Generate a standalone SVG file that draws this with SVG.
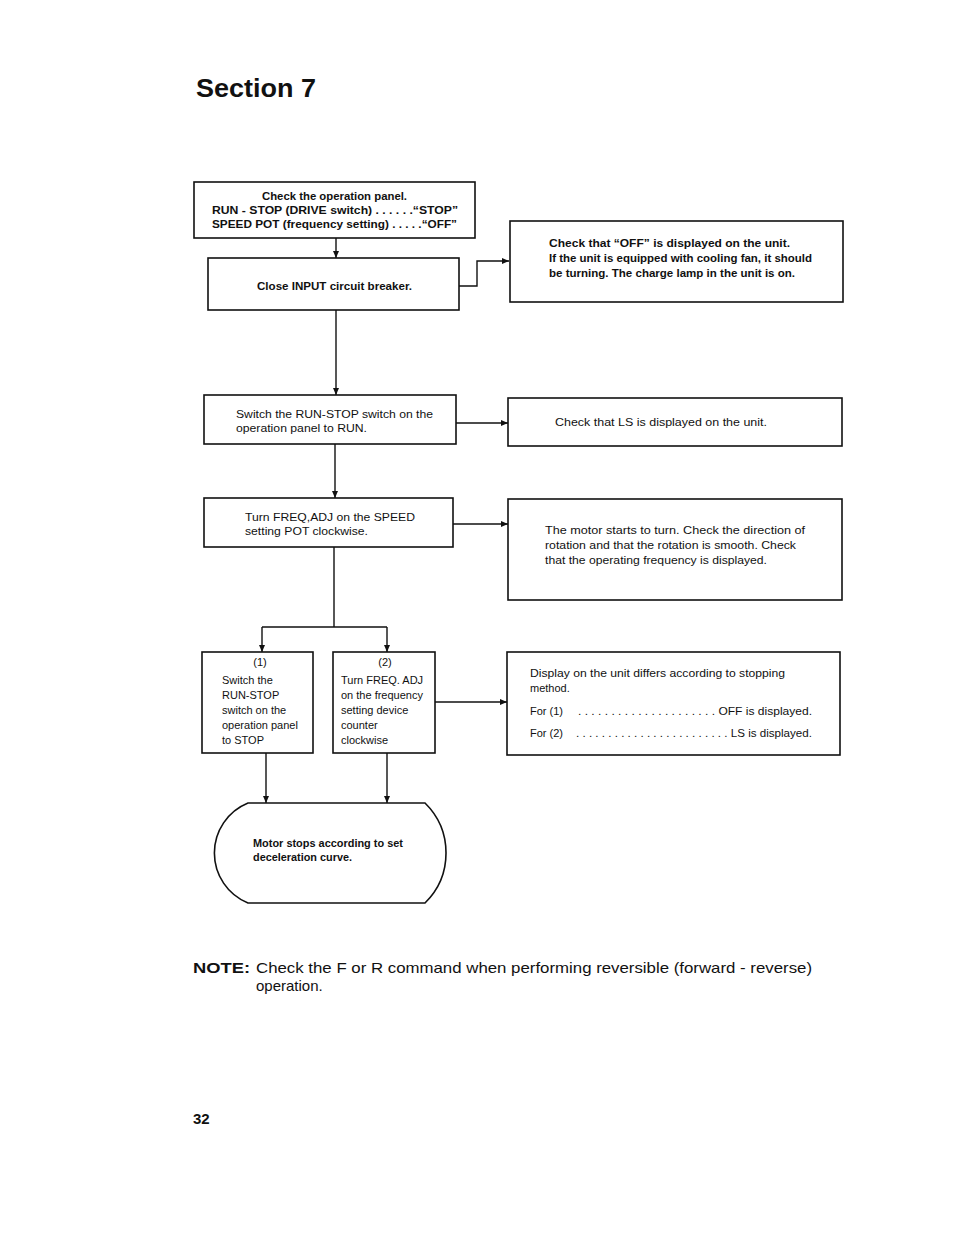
<svg xmlns="http://www.w3.org/2000/svg" width="954" height="1235" viewBox="0 0 954 1235">
<defs>
<marker id="ah" markerWidth="7" markerHeight="6" refX="7" refY="3" orient="auto" markerUnits="userSpaceOnUse">
<path d="M0,0 L7,3 L0,6 z" fill="#111"/>
</marker>
<style>
.box{fill:#fff;stroke:#111;stroke-width:1.6}
.t{font-family:"Liberation Sans",Arial,sans-serif;font-size:11px;fill:#111}
.b{font-weight:bold}
.c{fill:none;stroke:#111;stroke-width:1.4}
.a{marker-end:url(#ah)}
</style>
</defs>
<rect width="954" height="1235" fill="#fff"/>
<text x="196" y="97" font-family="Liberation Sans,Arial,sans-serif" font-size="26" font-weight="bold" fill="#111" textLength="120" lengthAdjust="spacingAndGlyphs">Section 7</text>

<g id="connectors">
<path class="c a" d="M336,238 V258"/>
<path class="c a" d="M459,286 H477 V261 H509"/>
<path class="c a" d="M336,310 V395"/>
<path class="c a" d="M456,423 H508"/>
<path class="c a" d="M335,444 V498"/>
<path class="c a" d="M453,524 H508"/>
<path class="c" d="M334,547 V627 M262,627 H387"/>
<path class="c a" d="M262,627 V652"/>
<path class="c a" d="M387,627 V652"/>
<path class="c a" d="M435,702 H507"/>
<path class="c a" d="M266,753 V803"/>
<path class="c a" d="M387,753 V803"/>
</g>

<g id="n1">
<rect class="box" x="194" y="182" width="281" height="56"/>
<text class="t b" x="262" y="200" textLength="145" lengthAdjust="spacingAndGlyphs">Check the operation panel.</text>
<text class="t b" x="212" y="214" textLength="246" lengthAdjust="spacingAndGlyphs">RUN - STOP (DRIVE switch) . . . . . .“STOP”</text>
<text class="t b" x="212" y="228" textLength="245" lengthAdjust="spacingAndGlyphs">SPEED POT (frequency setting) . . . . .“OFF”</text>
</g>

<g id="n2">
<rect class="box" x="208" y="258" width="251" height="52"/>
<text class="t b" x="257" y="290" textLength="155" lengthAdjust="spacingAndGlyphs">Close INPUT circuit breaker.</text>
</g>

<g id="n3">
<rect class="box" x="510" y="221" width="333" height="81"/>
<text class="t b" x="549" y="247" textLength="241" lengthAdjust="spacingAndGlyphs">Check that “OFF” is displayed on the unit.</text>
<text class="t b" x="549" y="262" textLength="263" lengthAdjust="spacingAndGlyphs">If the unit is equipped with cooling fan, it should</text>
<text class="t b" x="549" y="277" textLength="246" lengthAdjust="spacingAndGlyphs">be turning. The charge lamp in the unit is on.</text>
</g>

<g id="n4">
<rect class="box" x="204" y="395" width="252" height="49"/>
<text class="t" x="236" y="418" textLength="197" lengthAdjust="spacingAndGlyphs">Switch the RUN-STOP switch on the</text>
<text class="t" x="236" y="432" textLength="131" lengthAdjust="spacingAndGlyphs">operation panel to RUN.</text>
</g>

<g id="n5">
<rect class="box" x="508" y="398" width="334" height="48"/>
<text class="t" x="555" y="426" textLength="212" lengthAdjust="spacingAndGlyphs">Check that LS is displayed on the unit.</text>
</g>

<g id="n6">
<rect class="box" x="204" y="498" width="249" height="49"/>
<text class="t" x="245" y="521" textLength="170" lengthAdjust="spacingAndGlyphs">Turn FREQ,ADJ on the SPEED</text>
<text class="t" x="245" y="535" textLength="123" lengthAdjust="spacingAndGlyphs">setting POT clockwise.</text>
</g>

<g id="n7">
<rect class="box" x="508" y="499" width="334" height="101"/>
<text class="t" x="545" y="534" textLength="260" lengthAdjust="spacingAndGlyphs">The motor starts to turn. Check the direction of</text>
<text class="t" x="545" y="549" textLength="251" lengthAdjust="spacingAndGlyphs">rotation and that the rotation is smooth. Check</text>
<text class="t" x="545" y="564" textLength="222" lengthAdjust="spacingAndGlyphs">that the operating frequency is displayed.</text>
</g>

<g id="n8">
<rect class="box" x="202" y="652" width="111" height="101"/>
<text class="t" x="260" y="666" text-anchor="middle">(1)</text>
<text class="t" x="222" y="684">Switch the</text>
<text class="t" x="222" y="699">RUN-STOP</text>
<text class="t" x="222" y="714">switch on the</text>
<text class="t" x="222" y="729">operation panel</text>
<text class="t" x="222" y="744">to STOP</text>
</g>

<g id="n9">
<rect class="box" x="333" y="652" width="102" height="101"/>
<text class="t" x="385" y="666" text-anchor="middle">(2)</text>
<text class="t" x="341" y="684">Turn FREQ. ADJ</text>
<text class="t" x="341" y="699">on the frequency</text>
<text class="t" x="341" y="714">setting device</text>
<text class="t" x="341" y="729">counter</text>
<text class="t" x="341" y="744">clockwise</text>
</g>

<g id="n10">
<rect class="box" x="507" y="652" width="333" height="103"/>
<text class="t" x="530" y="677" textLength="255" lengthAdjust="spacingAndGlyphs">Display on the unit differs according to stopping</text>
<text class="t" x="530" y="692">method.</text>
<text class="t" x="530" y="715">For (1)</text>
<text class="t" x="578" y="715" textLength="234" lengthAdjust="spacingAndGlyphs">. . . . . . . . . . . . . . . . . . . . .  OFF is displayed.</text>
<text class="t" x="530" y="737">For (2)</text>
<text class="t" x="576" y="737" textLength="236" lengthAdjust="spacingAndGlyphs">. . . . . . . . . . . . . . . . . . . . . . . .  LS is displayed.</text>
</g>

<g id="n11">
<path class="box" d="M248,803 L425,803 A70,70 0 0 1 425,903 L248,903 A54,54 0 0 1 248,803 Z"/>
<text class="t b" x="253" y="847" textLength="150" lengthAdjust="spacingAndGlyphs">Motor stops according to set</text>
<text class="t b" x="253" y="861" textLength="99" lengthAdjust="spacingAndGlyphs">deceleration curve.</text>
</g>

<g id="note" font-family="Liberation Sans,Arial,sans-serif" font-size="15" fill="#111">
<text x="193" y="973" font-weight="bold" textLength="57" lengthAdjust="spacingAndGlyphs">NOTE:</text>
<text x="256" y="973" textLength="556" lengthAdjust="spacingAndGlyphs">Check the F or R command when performing reversible (forward - reverse)</text>
<text x="256" y="991">operation.</text>
</g>
<text x="193" y="1124" font-family="Liberation Sans,Arial,sans-serif" font-size="15" font-weight="bold" fill="#111">32</text>
</svg>
